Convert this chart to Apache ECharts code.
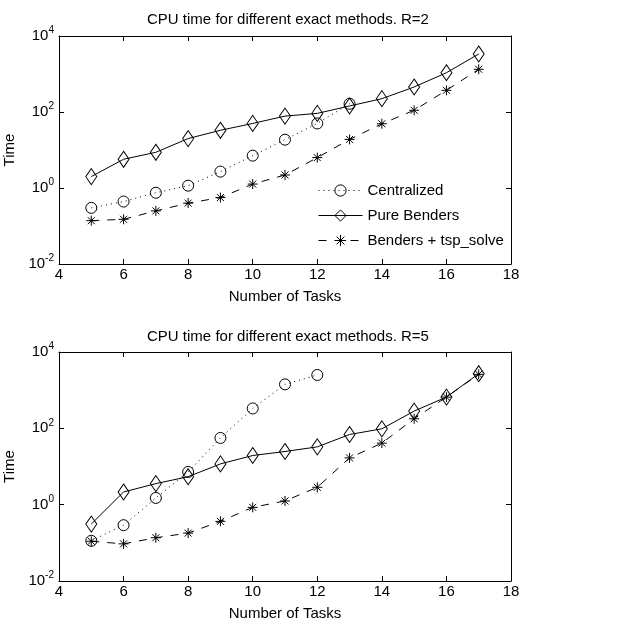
<!DOCTYPE html>
<html>
<head>
<meta charset="utf-8">
<script src="https://cdn.jsdelivr.net/npm/echarts@6/dist/echarts.min.js"></script>
<style>
html, body { margin: 0; padding: 0; background: #fff; }
#chart { width: 617px; height: 628px; }
</style>
</head>
<body>
<div id="chart"></div>
<script>
// number of tasks
var tasks = [5, 6, 7, 8, 9, 10, 11, 12, 13, 14, 15, 16, 17];

// R=2
var central2 = [0.30, 0.44, 0.75, 1.15, 2.7, 7.1, 18.7, 50, 165];
var pure2 = [2.0, 5.7, 8.7, 20, 33, 50, 78, 92, 144, 224, 455, 1080, 3360];
var tsp2 = [0.138, 0.15, 0.25, 0.40, 0.56, 1.27, 2.2, 6.3, 19, 49, 111, 372, 1330];

// R=5
var central5 = [0.113, 0.29, 1.5, 7.2, 56, 332, 1420, 2500];
var pure5 = [0.31, 2.15, 3.56, 5.4, 11.7, 19.4, 24.7, 32.7, 69, 97, 283, 660, 2700];
var tsp5 = [0.11, 0.094, 0.136, 0.18, 0.365, 0.85, 1.25, 2.85, 16.8, 41, 178, 660, 2600];

var titles = ['CPU time for different exact methods. R=2', 'CPU time for different exact methods. R=5'];
var names = ['Centralized', 'Pure Benders', 'Benders + tsp_solve'];

var font = 'Liberation Sans, Arial, sans-serif';
var starPath = 'path://M0,5L10,5M5,0L5,10M1.5,1.5L8.5,8.5M1.5,8.5L8.5,1.5';

function pairs(ys) {
	var res = [];
	for (var i = 0; i < ys.length; i++) {
		res.push([tasks[i], ys[i]]);
	}
	return res;
}

function logLabel(v) {
	var e = Math.round(Math.log10(v));
	return '{b|10}{s|' + e + '}';
}

var dom = document.getElementById('chart');
var myChart = echarts.init(dom);

var grids = [
	{ left: 59, top: 36, width: 452, height: 228, outerBoundsMode: 'none', containLabel: false },
	{ left: 59, top: 352, width: 452, height: 229, outerBoundsMode: 'none', containLabel: false }
];

var xAxes = [];
var yAxes = [];
for (var g = 0; g < 2; g++) {
	// bottom x axis
	xAxes.push({
		type: 'value', gridIndex: g, min: 4, max: 18, interval: 2,
		name: 'Number of Tasks', nameLocation: 'middle', nameGap: 25,
		nameTextStyle: { color: '#000', fontFamily: font, fontSize: 15 },
		axisLine: { show: true, onZero: false, lineStyle: { color: '#000', width: 1 } },
		axisTick: { show: true, inside: true, length: 5, lineStyle: { color: '#000' } },
		axisLabel: { color: '#000', fontFamily: font, fontSize: 15, margin: 3 },
		splitLine: { show: false }
	});
	// top mirror
	xAxes.push({
		type: 'value', gridIndex: g, position: 'top', min: 4, max: 18, interval: 2,
		axisLine: { show: true, onZero: false, lineStyle: { color: '#000', width: 1 } },
		axisTick: { show: true, inside: true, length: 5, lineStyle: { color: '#000' } },
		axisLabel: { show: false },
		splitLine: { show: false }
	});
	// left y axis
	yAxes.push({
		type: 'log', logBase: 10, gridIndex: g, min: 0.01, max: 10000, interval: 2,
		name: 'Time', nameLocation: 'middle', nameGap: 38,
		nameTextStyle: { color: '#000', fontFamily: font, fontSize: 15 },
		axisLine: { show: true, onZero: false, lineStyle: { color: '#000', width: 1 } },
		axisTick: { show: true, inside: true, length: 5, lineStyle: { color: '#000' } },
		axisLabel: {
			formatter: logLabel, margin: 5,
			rich: {
				b: { color: '#000', fontFamily: font, fontSize: 15 },
				s: { color: '#000', fontFamily: font, fontSize: 10, padding: [0, 0, 11, 0] }
			}
		},
		splitLine: { show: false }
	});
	// right mirror
	yAxes.push({
		type: 'log', logBase: 10, gridIndex: g, position: 'right', min: 0.01, max: 10000, interval: 2,
		axisLine: { show: true, onZero: false, lineStyle: { color: '#000', width: 1 } },
		axisTick: { show: true, inside: true, length: 5, lineStyle: { color: '#000' } },
		axisLabel: { show: false },
		splitLine: { show: false }
	});
}

function makeSeries(name, ys, g, kind) {
	var s = {
		name: name,
		type: 'line',
		xAxisIndex: g * 2,
		yAxisIndex: g * 2,
		data: pairs(ys),
		animation: false,
		z: 3,
		lineStyle: { color: '#000', width: 1 },
		itemStyle: { color: 'rgba(255,255,255,0)', borderColor: '#000', borderWidth: 1 }
	};
	if (kind == 0) {
		s.symbol = 'circle';
		s.symbolSize = 11;
		s.lineStyle.type = [1, 4];
	} else if (kind == 1) {
		s.symbol = 'diamond';
		s.symbolSize = [11, 16];
		s.lineStyle.type = 'solid';
	} else {
		s.symbol = starPath;
		s.symbolSize = 10;
		s.lineStyle.type = [8, 8];
	}
	return s;
}

var series = [
	makeSeries(names[0], central2, 0, 0),
	makeSeries(names[1], pure2, 0, 1),
	makeSeries(names[2], tsp2, 0, 2),
	makeSeries(names[0], central5, 1, 0),
	makeSeries(names[1], pure5, 1, 1),
	makeSeries(names[2], tsp5, 1, 2)
];

option = {
	backgroundColor: '#fff',
	title: [
		{ text: titles[0], left: 283, textAlign: 'center', top: 7,
			textStyle: { color: '#000', fontFamily: font, fontSize: 15, fontWeight: 'normal' } },
		{ text: titles[1], left: 283, textAlign: 'center', top: 324,
			textStyle: { color: '#000', fontFamily: font, fontSize: 15, fontWeight: 'normal' } }
	],
	legend: {
		data: names,
		orient: 'vertical',
		left: 313,
		top: 178,
		itemWidth: 44,
		itemHeight: 14,
		itemGap: 10,
		lineStyle: { width: 1 },
		itemStyle: { borderWidth: 1 },
		textStyle: { color: '#000', fontFamily: font, fontSize: 15 },
		selectedMode: false
	},
	grid: grids,
	xAxis: xAxes,
	yAxis: yAxes,
	series: series
};
myChart.setOption(option);
</script>
</body>
</html>
